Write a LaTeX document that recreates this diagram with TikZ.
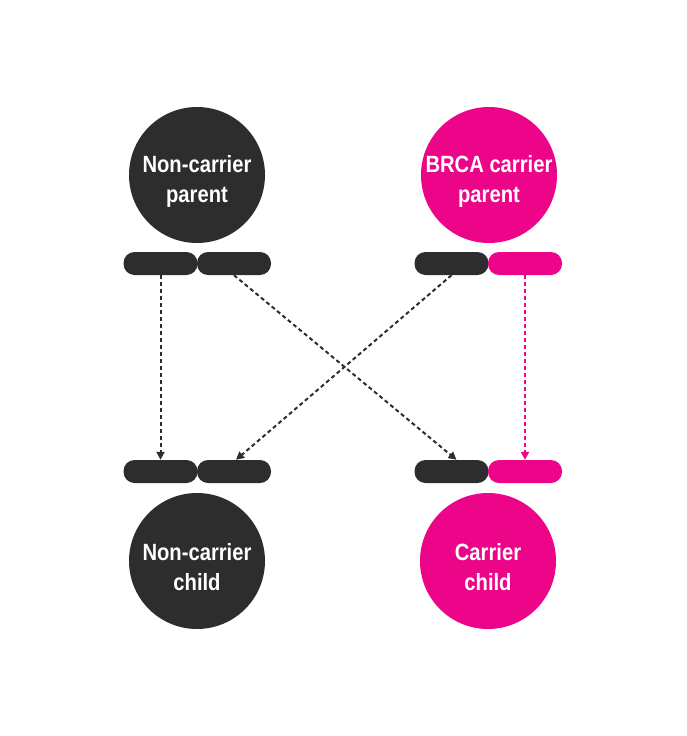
\documentclass[tikz,border=0pt]{standalone}
\usepackage{fontspec}
\usepackage{xcolor}
\usepackage{tikz}
\usetikzlibrary{arrows.meta, positioning}
\newfontfamily\lblfont[FakeStretch=0.86]{Liberation Sans}
\definecolor{darkgene}{HTML}{2D2D2D}
\definecolor{brcapink}{HTML}{EC0588}

\begin{document}
\begin{tikzpicture}[x=1pt, y=-1pt,
    person/.style={circle, minimum size=136pt, inner sep=0pt},
    persontext/.style={align=center, text=white, yshift=-6pt,
      font=\lblfont\bfseries\fontsize{23.5}{30}\selectfont},
    allele/.style={rounded corners=11pt, minimum width=74pt, minimum height=23pt, inner sep=0pt},
    inherit/.style={-{Triangle[length=8pt, width=8pt]}, line width=2pt, dash pattern=on 4pt off 3pt}]
      \useasboundingbox (0,0) rectangle (687,736);

      % parents
      \node[person, fill=darkgene, label={[persontext]center:{Non-carrier\\parent}}] (ncparent) at (197,175) {};
      \node[person, fill=brcapink, label={[persontext]center:{BRCA carrier\\parent}}] (cparent) at (489,175) {};

      % parent alleles
      \node[allele, fill=darkgene] (npA) at (160.5,263.5) {};
      \node[allele, fill=darkgene] (npB) at (234,263.5) {};
      \node[allele, fill=darkgene] (cpA) at (451.5,263.5) {};
      \node[allele, fill=brcapink] (cpB) at (525,263.5) {};

      % child alleles
      \node[allele, fill=darkgene] (ncA) at (160.5,471.5) {};
      \node[allele, fill=darkgene] (ncB) at (234,471.5) {};
      \node[allele, fill=darkgene] (ccA) at (451.5,471.5) {};
      \node[allele, fill=brcapink] (ccB) at (525,471.5) {};

      % children
      \node[person, fill=darkgene, label={[persontext]center:{Non-carrier\\child}}] (ncchild) at (197,561) {};
      \node[person, fill=brcapink, label={[persontext]center:{Carrier\\child}}] (cchild) at (488,561) {};

      \draw[inherit, darkgene] (npA.south) -- (ncA.north);
      \draw[inherit, darkgene] (npB.south) -- ([xshift=5pt]ccA.north);
      \draw[inherit, darkgene] (cpA.south) -- ([xshift=2pt]ncB.north);
      \draw[inherit, brcapink] (cpB.south) -- (ccB.north);
    \end{tikzpicture}
\end{document}
